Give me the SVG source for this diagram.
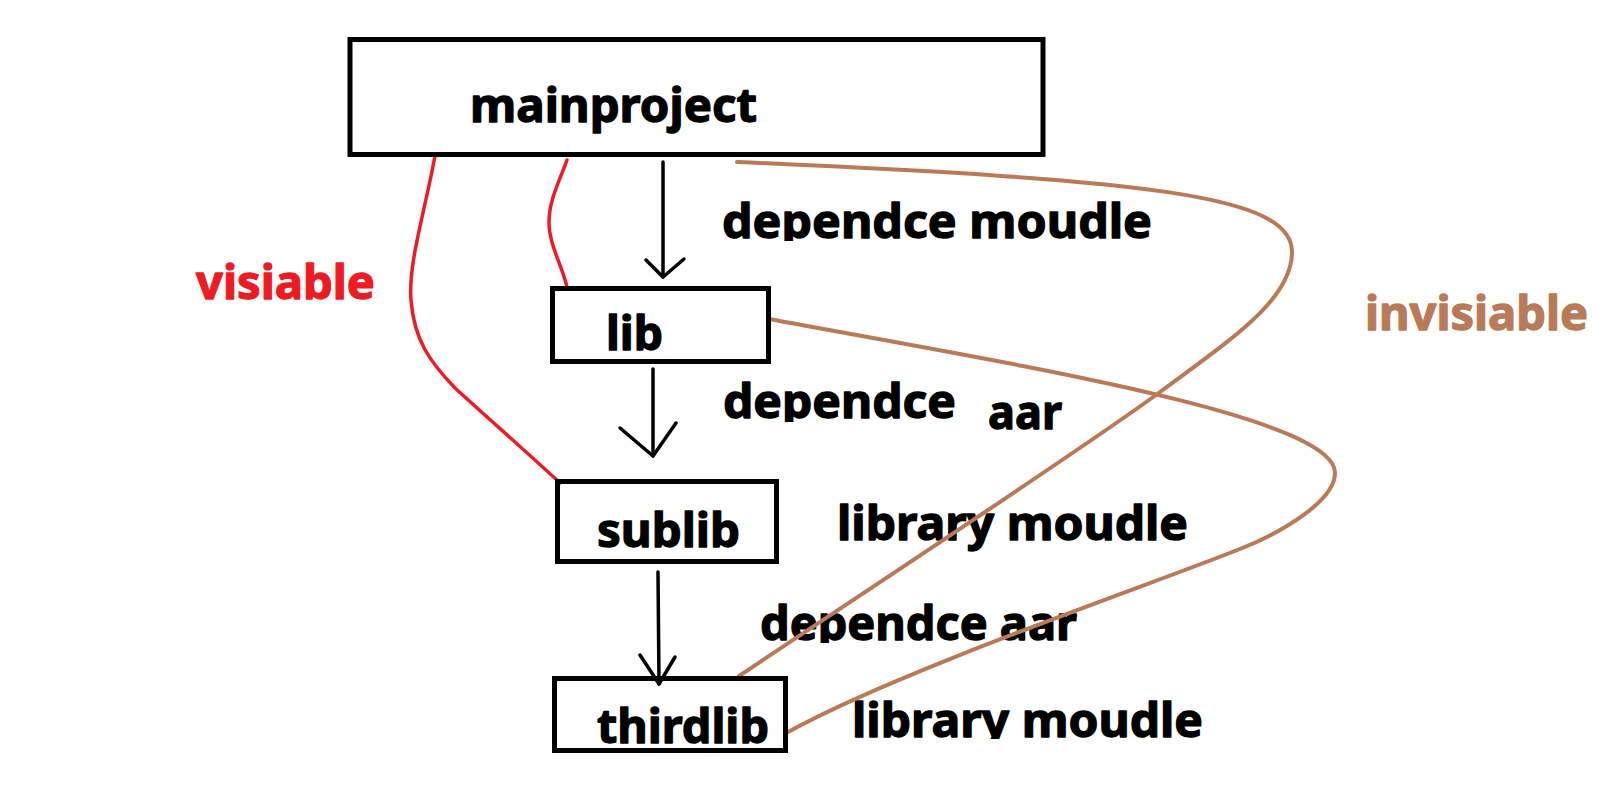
<svg xmlns="http://www.w3.org/2000/svg" width="1609" height="808" viewBox="0 0 1609 808">
<style>
  .box { fill: none; stroke: #000; stroke-width: 5; }
  .lbl { font-family: "Noto Sans", "Open Sans", "DejaVu Sans", sans-serif; font-weight: bold; font-size: 47px; fill: #000; stroke: #000; stroke-width: 1.3; stroke-linejoin: round; }
  .red { fill: #ed1c24; stroke: #ed1c24; }
  .brown { fill: #b97a57; stroke: #b97a57; }
  .arrow { fill: none; stroke: #000; stroke-width: 3.5; stroke-linecap: round; stroke-linejoin: round; }
  .vis { fill: none; stroke: #ed1c24; stroke-width: 3.5; stroke-linecap: round; }
  .invis { fill: none; stroke: #b97a57; stroke-width: 4; stroke-linecap: round; }
</style>
<defs>
  <clipPath id="clip1"><rect x="0" y="0" width="1609" height="241"/></clipPath>
  <clipPath id="clip2"><rect x="0" y="300" width="980" height="122"/></clipPath>
  <clipPath id="clip3"><rect x="0" y="560" width="1609" height="83"/></clipPath>
  <clipPath id="clip4"><rect x="0" y="650" width="1609" height="89"/></clipPath>
</defs>
<rect width="1609" height="808" fill="#fff"/>

<g id="labels">
  <text class="lbl" x="722" y="238" textLength="430" lengthAdjust="spacingAndGlyphs" clip-path="url(#clip1)">dependce moudle</text>
  <text class="lbl" x="723" y="418" textLength="233" lengthAdjust="spacingAndGlyphs" clip-path="url(#clip2)">dependce</text>
  <text class="lbl" x="988" y="429" textLength="74" lengthAdjust="spacingAndGlyphs">aar</text>
  <text class="lbl" x="837" y="540" textLength="351" lengthAdjust="spacingAndGlyphs">library moudle</text>
  <text class="lbl" x="760" y="640" textLength="317" lengthAdjust="spacingAndGlyphs" clip-path="url(#clip3)">dependce aar</text>
  <text class="lbl" x="852" y="737" textLength="351" lengthAdjust="spacingAndGlyphs" clip-path="url(#clip4)">library moudle</text>
  <text class="lbl red" x="196" y="299" textLength="179" lengthAdjust="spacingAndGlyphs">visiable</text>
  <text class="lbl brown" x="1365" y="330" textLength="223" lengthAdjust="spacingAndGlyphs">invisiable</text>
</g>

<g id="connectors">
  <!-- dependency arrows -->
  <line class="arrow" x1="663" y1="162" x2="663" y2="277"/>
  <polyline class="arrow" points="646,260 663,277 684,259"/>
  <line class="arrow" x1="653" y1="369" x2="653" y2="456"/>
  <polyline class="arrow" points="620,428 653,456 676,423"/>
  <line class="arrow" x1="658" y1="572" x2="659" y2="684"/>
  <polyline class="arrow" points="640,655 659,684 675,657"/>
  <!-- visible (red) -->
  <path class="vis" d="M435,156 C424,215 408,265 411,300 C414,340 430,362 455,388 C490,420 530,455 560,483"/>
  <path class="vis" d="M567,160 C560,180 549,200 549,222 C549,245 562,265 567,287"/>
  <!-- invisible (brown) -->
  <path class="invis" d="M737,162 C1150,180 1292,195 1292,252 C1292,300 1230,340 1160,392 C1090,444 830,615 739,676"/>
  <path class="invis" d="M769,319 C1000,362 1335,415 1335,473 C1335,500 1285,531 1240,549 C1150,585 900,670 788,732"/>
</g>

<g id="mainproject">
  <rect class="box" x="350" y="39.5" width="693" height="115"/>
  <text class="lbl" x="470" y="122" textLength="287" lengthAdjust="spacingAndGlyphs">mainproject</text>
</g>
<g id="lib">
  <rect class="box" x="552.5" y="288.5" width="216" height="73"/>
  <text class="lbl" x="606" y="350" textLength="57" lengthAdjust="spacingAndGlyphs">lib</text>
</g>
<g id="sublib">
  <rect class="box" x="557.5" y="481.5" width="219" height="80"/>
  <text class="lbl" x="597" y="547" textLength="143" lengthAdjust="spacingAndGlyphs">sublib</text>
</g>
<g id="thirdlib">
  <rect class="box" x="554.5" y="678.5" width="231" height="72"/>
  <text class="lbl" x="597" y="743" textLength="172" lengthAdjust="spacingAndGlyphs">thirdlib</text>
</g>
</svg>
